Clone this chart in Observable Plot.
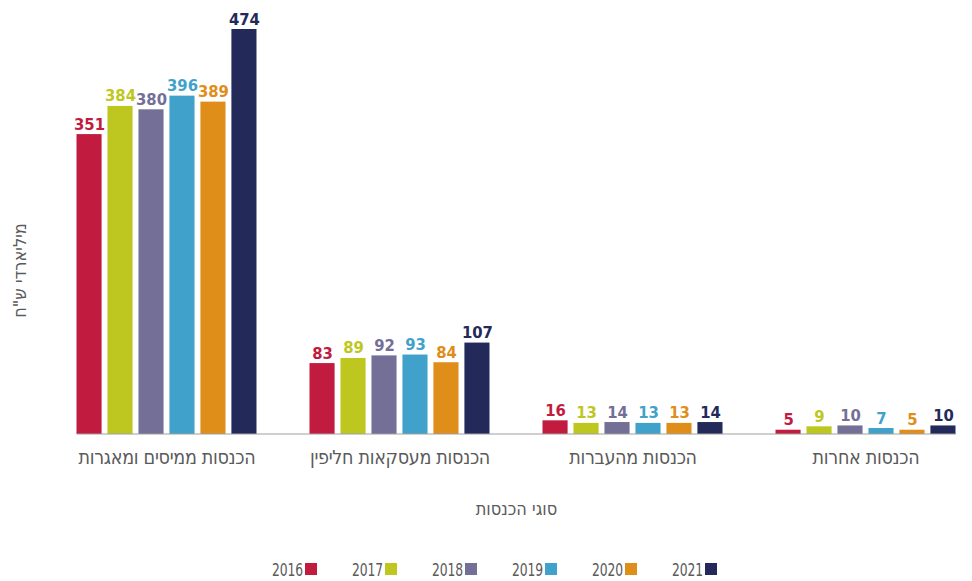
<!DOCTYPE html>
<html><head><meta charset="utf-8">
<script src="https://cdn.jsdelivr.net/npm/d3@7"></script>
<script src="https://cdn.jsdelivr.net/npm/@observablehq/plot@0.6"></script>
<style>
body{margin:0;background:#fff;font-family:"Liberation Sans Narrow","DejaVu Sans Condensed",sans-serif;}
#chart svg{display:block;}
g[aria-label="fx-axis tick label"] text{font-size:19.5px;fill:#5a5a5a;letter-spacing:-0.3px;}
g[aria-label="fx-axis label"] text{font-size:18px;fill:#5a5a5a;}
g[aria-label="text"][font-weight="bold"] text{font-family:"Liberation Sans",Arial,sans-serif;letter-spacing:-1px;}
#legend{display:flex;margin-top:20px;margin-left:262px;height:18px;align-items:center;}
.item{width:80px;display:flex;align-items:center;color:#5a5a5a;}
.lbl{display:inline-block;font-size:18px;font-family:"DejaVu Sans Condensed","DejaVu Sans",sans-serif;transform:scaleX(0.76);transform-origin:right center;}
.sw{width:12px;height:12px;margin-left:2px;}
</style></head><body><div id="chart"></div><div id="legend"></div>
<script>
const categories = ["הכנסות ממיסים ומאגרות", "הכנסות מעסקאות חליפין", "הכנסות מהעברות", "הכנסות אחרות"];
const years = ["2016", "2017", "2018", "2019", "2020", "2021"];
const colors = ["#c11b40", "#bec71f", "#736f97", "#40a2cb", "#df8e1a", "#232a5a"];
const v2016 = [351, 83, 16, 5];
const v2017 = [384, 89, 13, 9];
const v2018 = [380, 92, 14, 10];
const v2019 = [396, 93, 13, 7];
const v2020 = [389, 84, 13, 5];
const v2021 = [474, 107, 14, 10];
const yLabel = "מיליארדי ש\"ח";
const xLabel = "סוגי הכנסות";

const series = [v2016, v2017, v2018, v2019, v2020, v2021];
const data = [];
categories.forEach((c, ci) => years.forEach((y, yi) => data.push({category: c, year: y, value: series[yi][ci]})));

const chart = Plot.plot({
  width: 972, height: 540,
  marginLeft: 62, marginRight: 2, marginTop: 29, marginBottom: 106,
  style: {fontFamily: '"Liberation Sans Narrow","DejaVu Sans Condensed",sans-serif', background: "white", color: "#5a5a5a", overflow: "visible"},
  fx: {domain: categories, round: false, paddingInner: 53/233, paddingOuter: 0.0622, label: xLabel, labelAnchor: "center", labelOffset: 80, tickSize: 0, tickPadding: 16},
  x: {domain: years, round: false, paddingInner: 0.19, paddingOuter: 0, axis: null},
  y: {domain: [0, 474], axis: null},
  color: {domain: years, range: colors},
  marks: [
    Plot.barY(data, {fx: "category", x: "year", y: "value", fill: "year"}),
    Plot.text(data, {fx: "category", x: "year", y: "value", text: d => String(d.value), fill: "year", dy: -5, lineAnchor: "bottom", fontWeight: "bold", fontSize: 16.5}),
    Plot.frame({facet: "super", fill: "#a0a0a0", stroke: null, insetTop: 404}),
    Plot.text([yLabel], {facet: "super", text: d => d, frameAnchor: "left", textAnchor: "middle", rotate: -90, dx: -57, dy: 38.5, fontSize: 18, fill: "#5a5a5a"})
  ]
});
document.getElementById("chart").appendChild(chart);

const legend = document.getElementById("legend");
years.forEach((y, i) => {
  const it = document.createElement("div");
  it.className = "item";
  const t = document.createElement("span");
  t.className = "lbl";
  t.textContent = y;
  const s = document.createElement("span");
  s.className = "sw";
  s.style.background = colors[i];
  it.appendChild(t); it.appendChild(s);
  legend.appendChild(it);
});
</script></body></html>
